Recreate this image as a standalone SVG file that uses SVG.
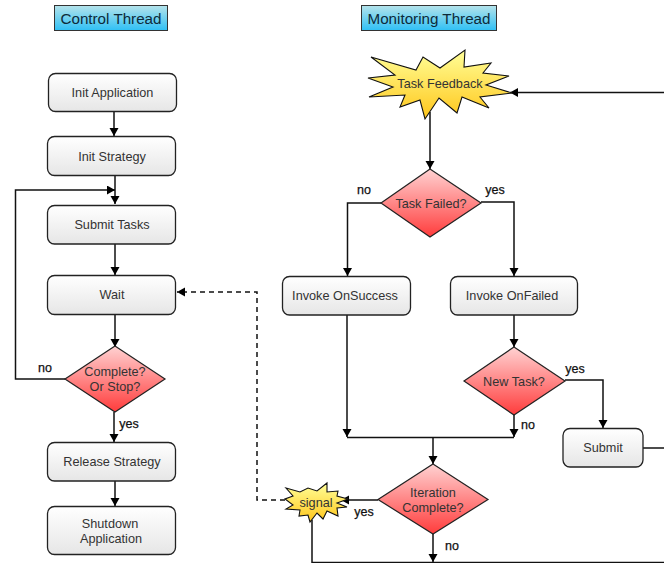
<svg xmlns="http://www.w3.org/2000/svg" width="664" height="563" viewBox="0 0 664 563">
<style>
text{font-family:"Liberation Sans",Arial,sans-serif;font-size:12.7px;fill:#333;text-anchor:middle}
.t{font-size:15.2px;fill:#0d2a3a}
.l{font-size:12.5px;fill:#111;font-weight:400;stroke:#111;stroke-width:.25px}
.b{fill:url(#g);stroke:#222;stroke-width:1.3}
.d{fill:url(#r);stroke:#222;stroke-width:1.2}
.s{fill:url(#y);stroke:#111;stroke-width:1.1}
.h{fill:url(#c);stroke:#333;stroke-width:1}
.w{fill:none;stroke:#111;stroke-width:1.5}
</style>
<defs>
<linearGradient id="g" x1="0" y1="0" x2="0" y2="1"><stop offset="0" stop-color="#fff"/><stop offset="1" stop-color="#e6e6e6"/></linearGradient>
<linearGradient id="r" x1="0" y1="0" x2="0" y2="1"><stop offset="0" stop-color="#ffd2d2"/><stop offset="1" stop-color="#ff3c3c"/></linearGradient>
<linearGradient id="y" x1="0" y1="0" x2="0" y2="1"><stop offset="0" stop-color="#ffff99"/><stop offset="1" stop-color="#ffc61a"/></linearGradient>
<linearGradient id="c" x1="0" y1="0" x2="0" y2="1"><stop offset="0" stop-color="#b5e3ea"/><stop offset="1" stop-color="#2fc0f5"/></linearGradient>
<marker id="a" markerUnits="userSpaceOnUse" markerWidth="9" markerHeight="10" refX="8" refY="4.500" orient="auto"><path d="M0 0L8 4.500L0 9Z" fill="#000"/></marker>
</defs>
<g id="connectors">
<path class="w" d="M114 112V136" marker-end="url(#a)"/>
<path class="w" d="M115 176V204" marker-end="url(#a)"/>
<path class="w" d="M115 244V275" marker-end="url(#a)"/>
<path class="w" d="M115 315V347" marker-end="url(#a)"/>
<path class="w" d="M65 379H15.500V190H115" marker-end="url(#a)"/>
<path class="w" d="M114 412V442" marker-end="url(#a)"/>
<path class="w" d="M115 481V506" marker-end="url(#a)"/>
<path class="w" d="M430 112V169" marker-end="url(#a)"/>
<path class="w" d="M381 203H347.500V276" marker-end="url(#a)"/>
<path class="w" d="M481 202H514V276" marker-end="url(#a)"/>
<path class="w" d="M347 315V437" marker-end="url(#a)"/>
<path class="w" d="M514 315V347" marker-end="url(#a)"/>
<path class="w" d="M514 415V437" marker-end="url(#a)"/>
<path class="w" d="M347 437.500H514"/>
<path class="w" d="M433 437V464" marker-end="url(#a)"/>
<path class="w" d="M565 380H603V428" marker-end="url(#a)"/>
<path class="w" d="M643 448H664"/>
<path class="w" d="M378 500H341" marker-end="url(#a)"/>
<path class="w" d="M433 534V562" marker-end="url(#a)"/>
<path class="w" d="M312 520V562.500H664"/>
<path class="w" d="M664 92.500H510" marker-end="url(#a)"/>
<path class="w" d="M285 500H257V292H177" stroke-dasharray="5 4" marker-end="url(#a)"/>
</g>
<g id="title-control"><rect class="h" x="54.500" y="5.500" width="113" height="25"/><text class="t" x="111" y="24">Control Thread</text></g>
<g id="title-monitoring"><rect class="h" x="361.500" y="5.500" width="135" height="25"/><text class="t" x="429" y="24">Monitoring Thread</text></g>
<g id="init-application"><rect class="b" x="48.500" y="73.500" width="128" height="38" rx="7"/><text x="112.500" y="97">Init Application</text></g>
<g id="init-strategy"><rect class="b" x="47.500" y="136.500" width="128" height="39" rx="7"/><text x="112" y="161">Init Strategy</text></g>
<g id="submit-tasks"><rect class="b" x="47.500" y="205.500" width="128" height="38.500" rx="7"/><text x="112" y="229">Submit Tasks</text></g>
<g id="wait"><rect class="b" x="47.500" y="275.500" width="128" height="39" rx="7"/><text x="112" y="299">Wait</text></g>
<g id="complete"><polygon class="d" points="115,346 165,379 115,412 65,379"/><text x="115" y="376">Complete?</text><text x="115" y="391">Or Stop?</text></g>
<g id="release-strategy"><rect class="b" x="47.500" y="442.500" width="128" height="38.500" rx="7"/><text x="112" y="466">Release Strategy</text></g>
<g id="shutdown"><rect class="b" x="47.500" y="506.500" width="128" height="48" rx="7"/><text x="110" y="528">Shutdown</text><text x="111" y="543">Application</text></g>
<g id="task-feedback"><polygon class="s" points="371,57 416,70 423,57 440,68 465,50 464,67 491,63 483,73 509,76 486,85 512,93 480,97 489,108 462,97 457,113 439,98 425,119 420,100 400,107 405,95 369,97 393,87 368,78 395,75"/><text x="440" y="88">Task Feedback</text></g>
<g id="task-failed"><polygon class="d" points="430,169 481,203 430,237 381,203"/><text x="431" y="208">Task Failed?</text></g>
<g id="invoke-onsuccess"><rect class="b" x="282.500" y="276.500" width="128" height="38.500" rx="7"/><text x="345" y="300">Invoke OnSuccess</text></g>
<g id="invoke-onfailed"><rect class="b" x="450.500" y="276.500" width="127" height="38.500" rx="7"/><text x="512" y="300">Invoke OnFailed</text></g>
<g id="new-task"><polygon class="d" points="514,347 565,381 514,415 464,381"/><text x="514" y="386">New Task?</text></g>
<g id="submit"><rect class="b" x="563" y="428.500" width="80" height="38.500" rx="7"/><text x="603" y="452">Submit</text></g>
<g id="iteration-complete"><polygon class="d" points="433,464 488,499.500 433,534 378,499.500"/><text x="433" y="497">Iteration</text><text x="433" y="512">Complete?</text></g>
<g id="signal"><polygon class="s" points="286,488 300,492 308,488 317,491 327,483 327,492 338,491 337,496 348,499 337,503 347,507 337,508 338,516 327,511 323,519 317,513 310,522 308,515 299,516 300,510 286,509 293,505 285,499 293,496"/><text x="316" y="507">signal</text></g>
<g id="labels">
<text class="l" x="364" y="194">no</text>
<text class="l" x="495" y="194">yes</text>
<text class="l" x="45" y="372">no</text>
<text class="l" x="129" y="428">yes</text>
<text class="l" x="575" y="373">yes</text>
<text class="l" x="528" y="429">no</text>
<text class="l" x="364" y="516">yes</text>
<text class="l" x="452" y="550">no</text>
</g>
</svg>
